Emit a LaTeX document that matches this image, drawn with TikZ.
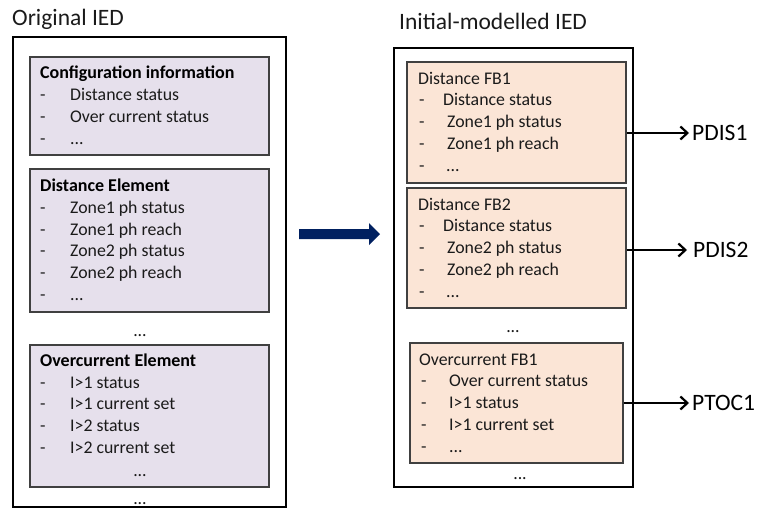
\documentclass[tikz,border=0pt]{standalone}
\usepackage{fontspec}
\setmainfont{Carlito}
\usetikzlibrary{arrows.meta}
\definecolor{lav}{HTML}{E6E0EC}
\definecolor{peach}{HTML}{FBE5D6}
\definecolor{bordergray}{HTML}{404040}
\definecolor{navyarrow}{HTML}{002060}
\definecolor{txt}{HTML}{1A1A1A}
\newcommand\myell{...}
\tikzset{
  outerbox/.style={draw=black, line width=2pt, fill=white, inner sep=0pt},
  lavbox/.style={draw=bordergray, line width=1.3pt, fill=lav, inner sep=0pt},
  peachbox/.style={draw=bordergray, line width=1.3pt, fill=peach, inner sep=0pt},
  head/.style={anchor=west, inner sep=0pt, text height=18pt, text depth=4pt, font=\fontsize{23.5}{26}\selectfont, text=txt},
  ttl/.style={anchor=west, inner sep=0pt, text height=14pt, text depth=3pt, font=\fontsize{18}{20}\selectfont\bfseries, text=black},
  ttlr/.style={anchor=west, inner sep=0pt, text height=14pt, text depth=3pt, font=\fontsize{17.8}{20}\selectfont, text=txt},
  itm/.style={anchor=west, inner sep=0pt, text height=14pt, text depth=3pt, font=\fontsize{17.8}{20}\selectfont, text=txt},
  lbl/.style={anchor=west, inner sep=0pt, text height=18pt, text depth=4pt, font=\fontsize{23.5}{26}\selectfont, text=black},
  arr/.style={line width=2.2pt, -{Straight Barb[length=7pt,width=13pt,line width=2.2pt]}},
}
\begin{document}
\begin{tikzpicture}[x=1pt,y=-1pt]
\useasboundingbox (0,0) rectangle (761,509);
% headers
\node[head] (h1) at (12,18) {Original IED};
\node[head] (h2) at (399,22) {Initial-modelled IED};
% outer boxes
\node[outerbox, minimum width=273pt, minimum height=470pt] (left) at (149.5,272) {};
\node[outerbox, minimum width=239pt, minimum height=439pt] (right) at (513.5,267.5) {};
% left inner boxes
\node[lavbox, minimum width=239pt, minimum height=98pt] (cfg) at (149.5,106) {};
\node[lavbox, minimum width=239pt, minimum height=143pt] (dist) at (149.5,240.5) {};
\node[lavbox, minimum width=239pt, minimum height=142pt] (oc) at (149.5,416) {};
% right inner boxes
\node[peachbox, minimum width=219pt, minimum height=121pt] (fb1) at (516.5,122.5) {};
\node[peachbox, minimum width=219pt, minimum height=120pt] (fb2) at (516.5,248) {};
\node[peachbox, minimum width=213pt, minimum height=120pt] (ocfb) at (516.5,403) {};
% config box text
\node[ttl] (cfgt) at (40,73) {Configuration information};
\foreach \y/\t [count=\i] in {95/Distance status,117/Over current status,139/\myell}{
  \node[itm] (cfgd\i) at (40,\y) {-};
  \node[itm] (cfgi\i) at (70,\y) {\t};
}
% distance element text
\node[ttl] (distt) at (40,186) {Distance Element};
\foreach \y/\t [count=\i] in {208/Zone1 ph status,230/Zone1 ph reach,251/Zone2 ph status,273/Zone2 ph reach,295/\myell}{
  \node[itm] (distd\i) at (40,\y) {-};
  \node[itm] (disti\i) at (70,\y) {\t};
}
\node[itm, anchor=center] (ldots1) at (140,331) {\myell};
% overcurrent element text
\node[ttl] (oct) at (40,361) {Overcurrent Element};
\foreach \y/\t [count=\i] in {383/I>1 status,404/I>1 current set,426/I>2 status,448/I>2 current set}{
  \node[itm] (ocd\i) at (40,\y) {-};
  \node[itm] (oci\i) at (70,\y) {\t};
}
\node[itm, anchor=center] (ocdots) at (140,471) {\myell};
\node[itm, anchor=center] (ldots2) at (140,499) {\myell};
% big arrow
\fill[navyarrow] (299,229) -- (369,229) -- (369,223) -- (380,234) -- (369,245) -- (369,239) -- (299,239) -- cycle;
% FB1 text
\node[ttlr] (fb1t) at (418,79) {Distance FB1};
\node[itm] (fb1d1) at (419,100) {-};
\node[itm] (fb1i1) at (443,100) {Distance status};
\node[itm] (fb1d2) at (419,122) {-};
\node[itm] (fb1i2) at (447,122) {Zone1 ph status};
\node[itm] (fb1d3) at (419,144) {-};
\node[itm] (fb1i3) at (447,144) {Zone1 ph reach};
\node[itm] (fb1d4) at (419,166) {-};
\node[itm] (fb1i4) at (446,166) {\myell};
% FB2 text
\node[ttlr] (fb2t) at (418,205) {Distance FB2};
\node[itm] (fb2d1) at (419,226) {-};
\node[itm] (fb2i1) at (443,226) {Distance status};
\node[itm] (fb2d2) at (419,248) {-};
\node[itm] (fb2i2) at (447,248) {Zone2 ph status};
\node[itm] (fb2d3) at (419,270) {-};
\node[itm] (fb2i3) at (447,270) {Zone2 ph reach};
\node[itm] (fb2d4) at (419,292) {-};
\node[itm] (fb2i4) at (446,292) {\myell};
\node[itm, anchor=center] (rdots1) at (513,327) {\myell};
% Overcurrent FB1 text
\node[ttlr] (ocfbt) at (419,360) {Overcurrent FB1};
\node[itm] (ocfbd1) at (421,381) {-};
\node[itm] (ocfbi1) at (449,381) {Over current status};
\node[itm] (ocfbd2) at (421,403) {-};
\node[itm] (ocfbi2) at (449,403) {I>1 status};
\node[itm] (ocfbd3) at (421,425) {-};
\node[itm] (ocfbi3) at (449,425) {I>1 current set};
\node[itm] (ocfbd4) at (421,447) {-};
\node[itm] (ocfbi4) at (449,447) {\myell};
\node[itm, anchor=center] (rdots2) at (520,474) {\myell};
% labels and arrows
\node[lbl] (pdis1) at (692,133) {PDIS1};
\node[lbl] (pdis2) at (693,250) {PDIS2};
\node[lbl] (ptoc1) at (692,403) {PTOC1};
\draw[arr] (fb1.east |- pdis1.west) -- ([xshift=-3pt]pdis1.west);
\draw[arr] (fb2.east |- pdis2.west) -- ([xshift=-6pt]pdis2.west);
\draw[arr] (ocfb.east |- ptoc1.west) -- ([xshift=-3pt]ptoc1.west);
\end{tikzpicture}
\end{document}
